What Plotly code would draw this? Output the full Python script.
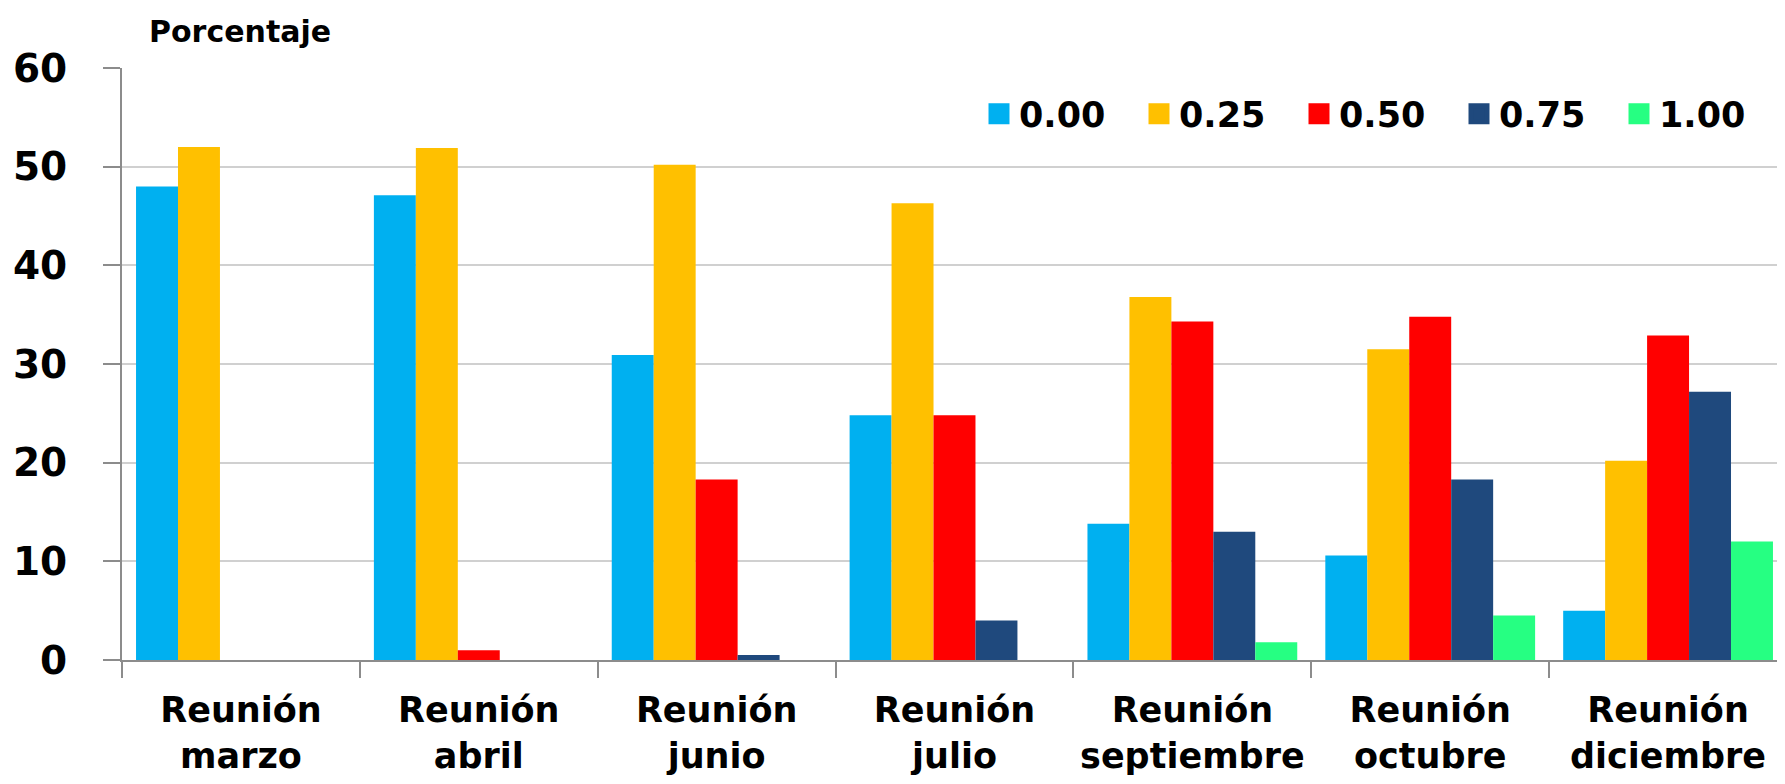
import plotly.graph_objects as go

categories = ["Reunión<br>marzo", "Reunión<br>abril", "Reunión<br>junio", "Reunión<br>julio",
              "Reunión<br>septiembre", "Reunión<br>octubre", "Reunión<br>diciembre"]
series_names = ["0.00", "0.25", "0.50", "0.75", "1.00"]
s000 = [48.0, 47.1, 30.9, 24.8, 13.8, 10.6, 5.0]
s025 = [52.0, 51.9, 50.2, 46.3, 36.8, 31.5, 20.2]
s050 = [0.0, 1.0, 18.3, 24.8, 34.3, 34.8, 32.9]
s075 = [0.0, 0.0, 0.5, 4.0, 13.0, 18.3, 27.2]
s100 = [0.0, 0.0, 0.0, 0.0, 1.8, 4.5, 12.0]
y_ticks = [0, 10, 20, 30, 40, 50, 60]

colors = ["#00B0F0", "#FFC000", "#FF0000", "#1F497D", "#26FF82"]
series = [s000, s025, s050, s075, s100]
FONT = "DejaVu Sans"

fig = go.Figure()
for name, vals, col in zip(series_names, series, colors):
    fig.add_trace(go.Bar(x=categories, y=vals, name=name, legendgroup=name, showlegend=False,
                         marker=dict(color=col, line=dict(width=0))))
# legend-only entries (larger square swatches)
for name, col in zip(series_names, colors):
    fig.add_trace(go.Scatter(x=[None], y=[None], mode="markers", name=name, legendgroup=name,
                             marker=dict(symbol="square", size=16, color=col,
                                         line=dict(color=col, width=5))))

fig.update_layout(
    width=1785, height=784,
    margin=dict(l=114, r=6, t=60, b=132, autoexpand=False),
    plot_bgcolor="white", paper_bgcolor="white",
    barmode="group", bargap=0.118, bargroupgap=0,
    font=dict(family=FONT, color="black"),
    legend=dict(orientation="h", x=(971 - 114) / 1665, y=(652 - 106) / 592,
                xanchor="left", yanchor="middle",
                font=dict(family=FONT, size=35, weight="bold"),
                entrywidth=115, entrywidthmode="pixels", bgcolor="rgba(0,0,0,0)",
                traceorder="normal"),
    showlegend=True,
)
fig.update_yaxes(range=[0, 60], tickvals=y_ticks, showgrid=True, gridcolor="#D0D0D0", gridwidth=2,
                 showline=True, linecolor="#8C8C8C", linewidth=2,
                 ticks="outside", ticklen=17, tickcolor="#8C8C8C", tickwidth=2,
                 tickfont=dict(family=FONT, size=39, weight="bold", color="black"),
                 ticklabelstandoff=28, zeroline=False, automargin=False)
fig.update_xaxes(showline=True, linecolor="#8C8C8C", linewidth=2,
                 ticks="outside", tickson="boundaries", ticklen=16, tickcolor="#8C8C8C", tickwidth=2,
                 tickangle=0,
                 tickfont=dict(family=FONT, size=35, weight="bold", color="black"),
                 ticklabelstandoff=18, automargin=False)
fig.add_annotation(text="Porcentaje", xref="paper", yref="paper", x=(139 - 114) / 1665,
                   y=(652 - 23) / 592, xanchor="left", yanchor="middle", showarrow=False,
                   font=dict(family=FONT, size=30, weight="bold", color="black"))
fig.write_html("out.html")
